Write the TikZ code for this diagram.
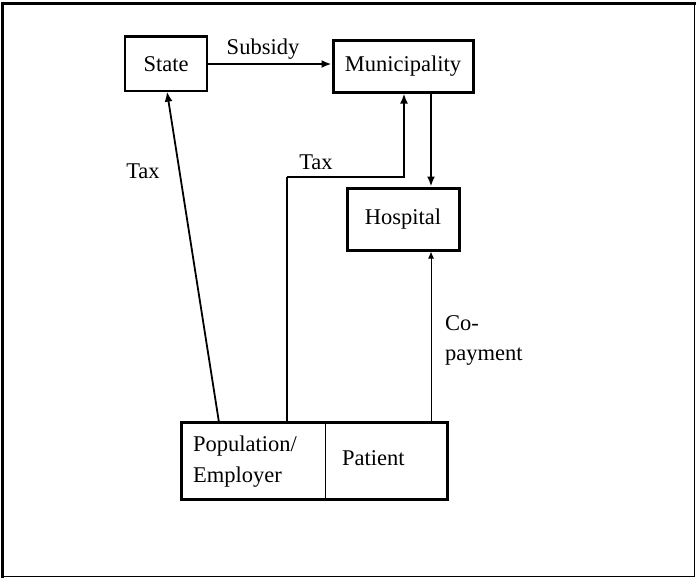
\documentclass[tikz,border=0pt]{standalone}
\usepackage{fontspec}
\setmainfont{Liberation Serif}
\usetikzlibrary{arrows.meta}
\begin{document}
\begin{tikzpicture}[x=1pt,y=-1pt,
  lbl/.style={font=\fontsize{22.5}{30}\selectfont, inner sep=0pt},
  thinbox/.style={draw, line width=1.3pt, inner sep=0pt, font=\fontsize{22.5}{30}\selectfont},
  thickbox/.style={draw, line width=3pt, inner sep=0pt, font=\fontsize{22.5}{30}\selectfont},
  arr/.style={-{Latex[length=10pt,width=8pt]}},
  smallarr/.style={-{Latex[length=7pt,width=6pt]}},
]
\useasboundingbox (0,0) rectangle (698,579);
\draw[line width=1.5pt] (2.5,3.5) rectangle (694.5,576.5);
\draw[line width=3pt] (2.5,2) -- (2.5,578);
\draw[line width=2.5pt] (2,3.5) -- (695.5,3.5);

% boxes
\node[thinbox, minimum width=82pt, minimum height=54pt] (state) at (166,64) {State};
\draw[line width=3pt] (state.north west) -- (state.north east);
\node[thickbox, minimum width=140pt, minimum height=52pt] (muni) at (403,66) {Municipality};
\node[thickbox, minimum width=112pt, minimum height=62pt] (hosp) at (403,219) {Hospital};
\node[draw, line width=1pt, minimum width=143pt, minimum height=76pt, inner sep=0pt] (popL) at (253.5,461) {};
\node[draw, line width=1pt, minimum width=122pt, minimum height=76pt, inner sep=0pt] (popR) at (386,461) {};
\draw[line width=3pt] (popL.north west) rectangle (popR.south east);
\node[lbl, anchor=west, align=left, font=\fontsize{22.5}{31}\selectfont] (poptext) at (193,462) {Population/\\Employer};
\node[lbl, anchor=west] (pattext) at (342,458) {Patient};

% coordinates
\coordinate (xmh) at (431,0);
\coordinate (xtax) at (404,0);
\coordinate (xpop) at (287,0);
\coordinate (ytax) at (0,177);
\coordinate (xst) at (167,0);
\coordinate (xps) at (219,0);

% connectors
\draw[arr, line width=2.5pt] (state.east) -- (state.east -| muni.west);
\node[lbl] (subsidy) at (263,49) {Subsidy};

\draw[arr, line width=2.5pt] (muni.south -| xmh) -- (hosp.north -| xmh);

\draw[line width=1.2pt] (popL.north -| xpop) -- (xpop |- ytax);
\draw[arr, line width=2.5pt] (xpop |- ytax) -- (xtax |- ytax) -- (muni.south -| xtax);
\node[lbl] (taxm) at (316,162) {Tax};

\draw[arr, line width=1.8pt] (popL.north -| xps) -- (state.south -| xst);
\node[lbl] (taxs) at (143,171) {Tax};

\draw[smallarr, line width=1pt] (popR.north -| xmh) -- (hosp.south -| xmh);
\node[lbl, anchor=north west, align=left, font=\fontsize{22.5}{30}\selectfont] (copay) at (445,315) {Co-\\payment};
\end{tikzpicture}
\end{document}
